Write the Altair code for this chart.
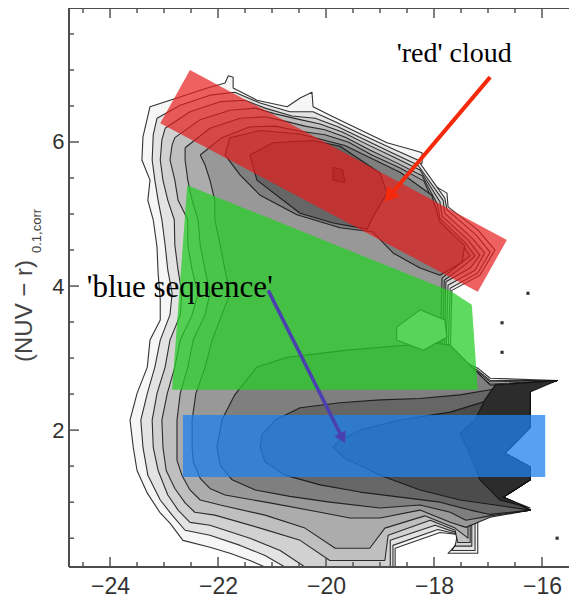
import altair as alt
import pandas as pd

SANS = "Liberation Sans"
SERIF = "Liberation Serif"

X_DOMAIN = [-24.76, -15.5]
Y_DOMAIN = [0.1, 7.86]
X_MAJOR = [-24, -22, -20, -18, -16]
X_MINOR = [-24.5, -23.5, -23, -22.5, -21.5, -21, -20.5, -19.5, -19, -18.5, -17.5, -17, -16.5]
Y_MAJOR = [2, 4, 6]
Y_MINOR = [0.5, 1, 1.5, 2.5, 3, 3.5, 4.5, 5, 5.5, 6.5, 7, 7.5]

# contour levels (absolute magnitude, colour)
RIGHT_EDGE = [(-15.72, 2.69), (-16.22, 2.58), (-16.22, 2.04), (-16.69, 1.68), (-16.22, 1.49),
              (-16.22, 1.31), (-16.72, 1.07), (-16.22, 0.89)]

L1_UPPER = [(-23.26, 6.49), (-22.76, 6.61), (-22.20, 6.75), (-21.87, 6.82), (-21.81, 6.92), (-21.72, 6.90),
            (-21.72, 6.75), (-21.28, 6.58), (-20.72, 6.49), (-20.48, 6.61), (-20.26, 6.69), (-20.24, 6.49),
            (-19.87, 6.35), (-19.37, 6.17), (-18.87, 5.99), (-18.39, 5.89), (-18.22, 5.85), (-18.22, 5.71),
            (-18.41, 5.58), (-17.76, 5.29), (-17.74, 5.10), (-17.19, 4.78), (-16.87, 4.50), (-17.15, 4.15),
            (-17.67, 3.94), (-17.70, 3.04), (-17.19, 2.86), (-16.96, 2.72)]
L1_LOWER = [(-16.96, 0.86), (-17.19, 0.75), (-17.19, 0.29), (-17.74, 0.29), (-17.43, 0.54), (-17.89, 0.58),
            (-18.72, 0.36), (-18.72, 0.10), (-21.13, 0.10), (-21.41, 0.19), (-21.78, 0.29), (-22.15, 0.375),
            (-22.65, 0.47), (-22.89, 0.71), (-23.07, 0.85), (-23.31, 1.125), (-23.50, 1.44), (-23.57, 1.76),
            (-23.63, 2.14), (-23.50, 2.51), (-23.31, 2.875), (-23.26, 3.25), (-23.07, 3.53), (-23.07, 3.81),
            (-23.11, 4.18), (-23.13, 4.54), (-23.20, 4.92), (-23.30, 5.19), (-23.26, 5.47), (-23.41, 5.75),
            (-23.39, 6.07)]

L2_UPPER = [(-23.13, 6.33), (-22.70, 6.51), (-22.15, 6.65), (-21.69, 6.69), (-21.22, 6.54), (-20.67, 6.42),
            (-20.24, 6.42), (-19.83, 6.28), (-19.33, 6.10), (-18.81, 5.92), (-18.30, 5.75), (-17.80, 5.22),
            (-17.76, 5.06), (-17.22, 4.71), (-16.96, 4.47), (-17.19, 4.18), (-17.70, 3.97), (-17.74, 3.04),
            (-17.19, 2.83), (-16.96, 2.69)]
L2_LOWER = [(-16.96, 0.86), (-17.24, 0.75), (-17.24, 0.33), (-17.67, 0.33), (-17.48, 0.54), (-17.93, 0.62),
            (-18.76, 0.40), (-18.76, 0.10), (-20.76, 0.10), (-21.13, 0.26), (-21.59, 0.40), (-22.15, 0.54),
            (-22.61, 0.61), (-22.85, 0.82), (-23.07, 1.03), (-23.30, 1.375), (-23.39, 1.76), (-23.43, 2.14),
            (-23.31, 2.51), (-23.17, 2.875), (-23.07, 3.25), (-22.89, 3.60), (-22.85, 3.90), (-22.93, 4.22),
            (-22.98, 4.57), (-23.04, 4.92), (-23.11, 5.19), (-23.17, 5.47), (-23.22, 5.75), (-23.20, 6.10)]

L3_UPPER = [(-22.98, 6.19), (-22.52, 6.42), (-21.96, 6.56), (-21.50, 6.58), (-21.13, 6.47), (-20.63, 6.36),
            (-20.20, 6.33), (-19.78, 6.21), (-19.28, 6.03), (-18.78, 5.85), (-18.30, 5.68), (-17.83, 5.19),
            (-17.80, 5.01), (-17.30, 4.67), (-17.06, 4.46), (-17.24, 4.22), (-17.74, 4.01), (-17.78, 3.04),
            (-17.19, 2.81), (-16.96, 2.67)]
L3_LOWER = [(-16.96, 0.83), (-17.30, 0.72), (-17.30, 0.39), (-17.61, 0.39), (-17.56, 0.57), (-17.98, 0.68),
            (-18.81, 0.47), (-18.81, 0.10), (-20.39, 0.10), (-20.85, 0.33), (-21.41, 0.50), (-22.15, 0.68),
            (-22.52, 0.72), (-22.74, 0.89), (-22.93, 1.10), (-23.11, 1.44), (-23.20, 1.76), (-23.22, 2.14),
            (-23.13, 2.51), (-22.98, 2.875), (-22.89, 3.25), (-22.70, 3.60), (-22.67, 3.90), (-22.74, 4.22),
            (-22.80, 4.57), (-22.81, 4.92), (-22.93, 5.19), (-23.02, 5.47), (-23.07, 5.75), (-23.04, 6.03)]

L4_UPPER = [(-22.80, 6.06), (-22.33, 6.31), (-21.78, 6.44), (-21.31, 6.47), (-20.94, 6.39), (-20.48, 6.31),
            (-20.11, 6.25), (-19.70, 6.14), (-19.22, 5.96), (-18.72, 5.78), (-18.26, 5.61), (-17.89, 5.17),
            (-17.85, 4.97), (-17.37, 4.64), (-17.15, 4.43), (-17.33, 4.25), (-17.78, 4.06), (-17.81, 3.04),
            (-17.19, 2.78), (-16.96, 2.64)]
L4_LOWER = [(-16.96, 0.82), (-17.33, 0.69), (-17.33, 0.44), (-17.56, 0.44), (-17.61, 0.61), (-18.07, 0.75),
            (-18.85, 0.54), (-18.91, 0.19), (-19.93, 0.19), (-20.48, 0.47), (-21.22, 0.64), (-22.06, 0.82),
            (-22.43, 0.86), (-22.61, 0.99), (-22.80, 1.19), (-22.96, 1.44), (-23.02, 1.76), (-23.04, 2.14),
            (-22.94, 2.51), (-22.80, 2.875), (-22.70, 3.25), (-22.48, 3.60), (-22.37, 3.90), (-22.48, 4.22),
            (-22.56, 4.57), (-22.56, 4.92), (-22.74, 5.19), (-22.80, 5.47), (-22.89, 5.75), (-22.85, 5.96)]

L5_UPPER = [(-22.61, 5.92), (-22.15, 6.19), (-21.59, 6.33), (-21.13, 6.35), (-20.76, 6.29), (-20.39, 6.22),
            (-20.02, 6.17), (-19.65, 6.07), (-19.19, 5.89), (-18.69, 5.71), (-18.22, 5.53), (-17.93, 5.13),
            (-17.89, 4.94), (-17.43, 4.61), (-17.24, 4.42), (-17.43, 4.29), (-17.81, 4.08), (-17.85, 3.03),
            (-17.19, 2.75), (-16.96, 2.61)]
L5_LOWER = [(-16.96, 0.81), (-17.37, 0.67), (-17.37, 0.50), (-17.61, 0.64), (-18.17, 0.81), (-18.91, 0.64),
            (-19.19, 0.36), (-19.83, 0.36), (-20.39, 0.64), (-21.13, 0.82), (-21.96, 0.96), (-22.33, 1.03),
            (-22.52, 1.17), (-22.67, 1.375), (-22.76, 1.58), (-22.76, 1.76), (-22.76, 2.14), (-22.70, 2.51),
            (-22.56, 2.875), (-22.46, 3.25), (-22.24, 3.60), (-22.15, 3.90), (-22.24, 4.22), (-22.33, 4.57),
            (-22.37, 4.92), (-22.48, 5.19), (-22.56, 5.47), (-22.61, 5.75)]

L6_UPPER = [(-22.33, 5.82), (-21.93, 6.06), (-21.41, 6.21), (-20.94, 6.22), (-20.48, 6.15), (-20.02, 6.10),
            (-19.59, 6.00), (-19.15, 5.82), (-18.63, 5.64), (-18.19, 5.46), (-17.96, 5.08), (-17.93, 4.92),
            (-17.48, 4.58), (-17.33, 4.42), (-17.52, 4.31), (-17.85, 4.11), (-17.89, 3.01), (-17.19, 2.72),
            (-16.96, 2.58)]
L6_LOWER = [(-16.96, 0.79), (-17.41, 0.65), (-17.70, 0.72), (-18.26, 0.89), (-19.00, 0.78), (-19.56, 0.78),
            (-20.11, 0.86), (-21.04, 0.99), (-21.87, 1.10), (-22.15, 1.19), (-22.33, 1.33), (-22.46, 1.56),
            (-22.48, 1.76), (-22.48, 2.14), (-22.41, 2.51), (-22.24, 2.875), (-22.11, 3.25), (-21.93, 3.60),
            (-21.78, 3.90), (-21.87, 4.22), (-21.96, 4.57), (-22.06, 4.92), (-22.06, 5.19), (-22.15, 5.47),
            (-22.24, 5.68)]

L7_RED_PEAK = [(-21.78, 6.06), (-21.22, 6.16), (-20.48, 6.11), (-19.65, 5.95), (-18.63, 5.58), (-18.04, 5.26),
               (-17.89, 4.89), (-17.43, 4.56), (-17.48, 4.33), (-17.89, 4.15), (-18.26, 4.25), (-18.76, 4.46),
               (-19.13, 4.75), (-19.74, 4.81), (-20.54, 4.99), (-21.22, 5.26), (-21.59, 5.54), (-21.87, 5.82)]
L7_BLUE_START = [(-16.96, 2.625)]
L7_BLUE_REST = [(-16.96, 0.81), (-17.41, 0.75), (-17.70, 0.86), (-18.26, 0.96), (-19.00, 0.92), (-19.93, 1.00),
                (-20.67, 1.08), (-21.31, 1.17), (-21.74, 1.31), (-21.96, 1.51), (-22.02, 1.76), (-21.93, 2.14),
                (-21.69, 2.49), (-21.28, 2.875), (-20.72, 3.01), (-19.61, 3.11), (-18.02, 3.21), (-17.70, 3.18),
                (-17.33, 2.90)]

L8_RED_PEAK = [(-21.41, 5.82), (-20.98, 5.99), (-20.24, 6.02), (-19.74, 5.94), (-19.00, 5.57), (-18.87, 5.29),
               (-19.13, 4.96), (-19.24, 4.79), (-19.87, 4.875), (-20.48, 5.01), (-21.28, 5.47)]
L8_BLUE_START = [(-16.96, 2.56)]
L8_BLUE_REST = [(-16.96, 0.83), (-17.33, 0.89), (-17.89, 1.00), (-18.63, 1.07), (-19.37, 1.14), (-20.11, 1.24),
                (-20.76, 1.375), (-21.13, 1.56), (-21.22, 1.76), (-21.19, 1.93), (-20.94, 2.14), (-20.48, 2.31),
                (-19.74, 2.38), (-19.00, 2.42), (-18.26, 2.44), (-17.52, 2.49)]

L9_RED_PEAK = [(-19.87, 5.65), (-19.69, 5.61), (-19.65, 5.44), (-19.87, 5.47)]
L9_BLUE_START = [(-16.96, 2.42)]
L9_BLUE_REST = [(-16.87, 0.96), (-17.52, 1.03), (-18.26, 1.17), (-19.00, 1.375), (-19.65, 1.61), (-19.87, 1.76),
                (-19.74, 1.86), (-19.37, 2.00), (-18.63, 2.14), (-17.70, 2.25)]

L10_BLUE = [(-16.87, 2.625), (-15.72, 2.69), (-16.22, 2.53), (-16.22, 2.04), (-16.69, 1.68), (-16.22, 1.49),
            (-16.22, 1.31), (-16.72, 1.07), (-16.22, 0.92), (-16.78, 1.03), (-17.15, 1.31), (-17.33, 1.65),
            (-17.52, 1.96), (-17.24, 2.14), (-17.06, 2.42)]

HOLE = [(-18.69, 3.43), (-18.26, 3.67), (-17.80, 3.53), (-17.76, 3.29), (-18.20, 3.11), (-18.69, 3.25)]

LEVEL_COLORS = ["#f6f6f6", "#e3e3e3", "#d1d1d1", "#bfbfbf", "#acacac", "#989898",
                "#7f7f7f", "#666666", "#4c4c4c", "#2c2c2c"]
HOLE_COLOR = "#e6e6e6"

# highlighted regions
RED_BAND = [(-22.52, 7.0), (-16.65, 4.64), (-17.19, 3.92), (-23.07, 6.26)]
GREEN_ZONE = [(-22.57, 5.40), (-17.67, 3.92), (-17.30, 3.74), (-17.19, 2.56), (-22.85, 2.56)]
BLUE_X = [-22.65, -15.94]
BLUE_Y = [1.35, 2.21]

DOTS_X = [-16.26, -16.74, -16.74, -15.72]
DOTS_Y = [3.90, 3.49, 3.08, 0.50]

RED_ARROW = [-16.96, 6.90, -18.80, 5.27]
BLUE_ARROW = [-21.07, 3.94, -19.71, 1.91]
RED_LABEL = ["'red' cloud", -18.69, 7.11]
BLUE_LABEL = ["'blue sequence'", -24.43, 3.85]

W, H = 500, 559

xs = alt.Scale(domain=X_DOMAIN, nice=False, zero=False)
ys = alt.Scale(domain=Y_DOMAIN, nice=False, zero=False)
x_axis = alt.Axis(values=X_MAJOR, format="d", title=None, domain=False, ticks=False, tickSize=0,
                  grid=False, labelFont=SANS, labelFontSize=23, labelColor="#333333", labelPadding=8)
y_axis = alt.Axis(values=Y_MAJOR, format="d", title=None, domain=False, ticks=False, tickSize=0,
                  grid=False, labelFont=SANS, labelFontSize=22, labelColor="#333333", labelPadding=5)


def X(f="x"):
    return alt.X(f"{f}:Q", scale=xs, axis=x_axis)


def Y(f="y"):
    return alt.Y(f"{f}:Q", scale=ys, axis=y_axis)


def poly_df(polys):
    rows = []
    for pid, pts in enumerate(polys):
        closed = list(pts) + [pts[0]]
        for i, (x, y) in enumerate(closed):
            rows.append({"x": x, "y": y, "i": i, "poly": pid})
    return pd.DataFrame(rows)


def poly_layer(polys, fill, stroke="#111111", sw=1.1, fop=1.0, sop=0.85):
    return alt.Chart(poly_df(polys)).mark_line(
        fill=fill, fillOpacity=fop, stroke=stroke, strokeWidth=sw, strokeOpacity=sop,
        clip=True, strokeJoin="round"
    ).encode(x=X(), y=Y(), order="i:Q", detail="poly:N")


levels = [
    [L1_UPPER + RIGHT_EDGE + L1_LOWER],
    [L2_UPPER + RIGHT_EDGE + L2_LOWER],
    [L3_UPPER + RIGHT_EDGE + L3_LOWER],
    [L4_UPPER + RIGHT_EDGE + L4_LOWER],
    [L5_UPPER + RIGHT_EDGE + L5_LOWER],
    [L6_UPPER + RIGHT_EDGE + L6_LOWER],
    [L7_RED_PEAK, L7_BLUE_START + RIGHT_EDGE + L7_BLUE_REST],
    [L8_RED_PEAK, L8_BLUE_START + RIGHT_EDGE + L8_BLUE_REST],
    [L9_RED_PEAK, L9_BLUE_START + RIGHT_EDGE + L9_BLUE_REST],
    [L10_BLUE],
]

layers = []
for polys, col in zip(levels, LEVEL_COLORS):
    layers.append(poly_layer(polys, col))
layers.append(poly_layer([HOLE], HOLE_COLOR))

# translucent highlight regions
layers.append(poly_layer([RED_BAND], "#e61e1e", stroke="#e61e1e", sw=0, fop=0.7, sop=0))
layers.append(poly_layer([GREEN_ZONE], "#28cd28", stroke="#28cd28", sw=0, fop=0.75, sop=0))
layers.append(
    alt.Chart(pd.DataFrame({"x": [BLUE_X[0]], "x2": [BLUE_X[1]], "y": [BLUE_Y[0]], "y2": [BLUE_Y[1]]}))
    .mark_rect(color="#1e82eb", opacity=0.75)
    .encode(x=X(), x2="x2:Q", y=Y(), y2="y2:Q")
)

# isolated points
layers.append(
    alt.Chart(pd.DataFrame({"x": DOTS_X, "y": DOTS_Y}))
    .mark_square(size=10, color="#333333", opacity=1)
    .encode(x=X(), y=Y())
)

# arrows
for arrow, col, sw, hsize, ang in [(RED_ARROW, "#f52a0a", 4, 260, 220), (BLUE_ARROW, "#4b40b0", 3.5, 160, 153)]:
    adf = pd.DataFrame({"x": [arrow[0]], "y": [arrow[1]], "x2": [arrow[2]], "y2": [arrow[3]]})
    layers.append(alt.Chart(adf).mark_rule(color=col, strokeWidth=sw).encode(x=X(), y=Y(), x2="x2:Q", y2="y2:Q"))
    hdf = pd.DataFrame({"x": [arrow[2]], "y": [arrow[3]]})
    layers.append(
        alt.Chart(hdf).mark_point(shape="triangle", filled=True, size=hsize, angle=ang, color=col, opacity=1)
        .encode(x=X(), y=Y())
    )

# annotation texts
for lab, fs in [(RED_LABEL, 28), (BLUE_LABEL, 31)]:
    tdf = pd.DataFrame({"t": [lab[0]], "x": [lab[1]], "y": [lab[2]]})
    layers.append(
        alt.Chart(tdf).mark_text(align="left", baseline="alphabetic", font=SERIF, fontSize=fs, color="black")
        .encode(x=X(), y=Y(), text="t:N")
    )

# inward ticks on bottom, top and left
TICK_COL = "#555555"
for vals, ln in [(X_MAJOR, 10), (X_MINOR, 5)]:
    tdf = pd.DataFrame({"x": vals})
    layers.append(alt.Chart(tdf).mark_rule(color=TICK_COL, strokeWidth=1.5)
                  .encode(x=X(), y=alt.value(H), y2=alt.value(H - ln)))
    layers.append(alt.Chart(tdf).mark_rule(color=TICK_COL, strokeWidth=1.5)
                  .encode(x=X(), y=alt.value(0), y2=alt.value(ln)))
for vals, ln in [(Y_MAJOR, 10), (Y_MINOR, 5)]:
    tdf = pd.DataFrame({"y": vals})
    layers.append(alt.Chart(tdf).mark_rule(color=TICK_COL, strokeWidth=1.5)
                  .encode(y=Y(), x=alt.value(0), x2=alt.value(ln)))

# frame (left, top, bottom)
dummy = pd.DataFrame({"a": [0]})
BORDER = "#4d4d4d"
layers.append(alt.Chart(dummy).mark_rule(color=BORDER, strokeWidth=2)
              .encode(x=alt.value(0), y=alt.value(0), y2=alt.value(H)))
layers.append(alt.Chart(dummy).mark_rule(color=BORDER, strokeWidth=2)
              .encode(x=alt.value(0), x2=alt.value(W), y=alt.value(0)))
layers.append(alt.Chart(dummy).mark_rule(color=BORDER, strokeWidth=2)
              .encode(x=alt.value(0), x2=alt.value(W), y=alt.value(H)))

# y-axis title with subscript
layers.append(alt.Chart(dummy).mark_text(angle=270, font=SANS, fontSize=24, color="#444444",
                                         align="center", baseline="middle")
              .encode(x=alt.value(-44), y=alt.value(303), text=alt.value("(NUV − r)")))
layers.append(alt.Chart(dummy).mark_text(angle=270, font=SANS, fontSize=13, color="#444444",
                                         align="center", baseline="middle")
              .encode(x=alt.value(-32), y=alt.value(223), text=alt.value("0.1,corr")))

chart = alt.layer(*layers).properties(
    width=W, height=H,
    padding={"left": 61, "top": 0, "right": 0, "bottom": 34},
    autosize=alt.AutoSizeParams(type="none"),
).configure_view(strokeWidth=0)

chart.save("out.html", embed_options={"renderer": "svg", "actions": False})
